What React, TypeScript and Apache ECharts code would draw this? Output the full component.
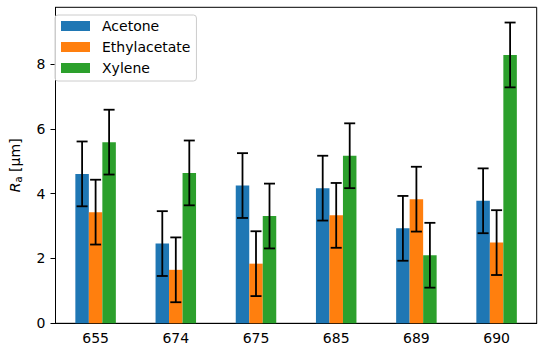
import React, { useEffect, useRef } from "react";
import * as echarts from "echarts";

const categories = ["655", "674", "675", "685", "689", "690"];
const seriesNames = ["Acetone", "Ethylacetate", "Xylene"];
const acetone = [4.61, 2.46, 4.25, 4.17, 2.93, 3.78];
const ethylacetate = [3.43, 1.65, 1.84, 3.33, 3.83, 2.49];
const xylene = [5.59, 4.64, 3.31, 5.17, 2.1, 8.28];
const acetoneErr = [1.0, 1.0, 1.0, 1.0, 1.0, 1.0];
const ethylacetateErr = [1.0, 1.0, 1.0, 1.0, 1.0, 1.0];
const xyleneErr = [1.0, 1.0, 1.0, 1.0, 1.0, 1.0];
const yTicks = [0, 2, 4, 6, 8];

const COLORS = ["#1f77b4", "#ff7f0e", "#2ca02c"];
const FONT = "DejaVu Sans";
const BAR_W = 13.5;

export default function App() {
  const ref = useRef<HTMLDivElement>(null);
  useEffect(() => {
    if (!ref.current) return;
    const chart = echarts.init(ref.current, null, { renderer: "svg" });
    const values = [acetone, ethylacetate, xylene];
    const errs = [acetoneErr, ethylacetateErr, xyleneErr];

    const barSeries = values.map((v, i) => ({
      type: "bar",
      name: seriesNames[i],
      data: v,
      barWidth: BAR_W,
      barGap: "0%",
      itemStyle: { color: COLORS[i] },
      z: 2,
    }));

    const errSeries = values.map((v, i) => ({
      type: "custom",
      name: seriesNames[i] + " err",
      data: v.map((val, j) => [j, val - errs[i][j], val + errs[i][j]]),
      encode: { x: 0, y: [1, 2] },
      z: 5,
      silent: true,
      renderItem: (params: any, api: any) => {
        const x = api.value(0);
        const lo = api.value(1);
        const hi = api.value(2);
        const pHi = api.coord([x, hi]);
        const pLo = api.coord([x, lo]);
        const cx = pHi[0] + (i - 1) * BAR_W;
        const hw = 5.5;
        const style = { stroke: "#000", lineWidth: 1.8 };
        return {
          type: "group",
          children: [
            { type: "line", shape: { x1: cx, y1: pHi[1], x2: cx, y2: pLo[1] }, style },
            { type: "line", shape: { x1: cx - hw, y1: pHi[1], x2: cx + hw, y2: pHi[1] }, style },
            { type: "line", shape: { x1: cx - hw, y1: pLo[1], x2: cx + hw, y2: pLo[1] }, style },
          ],
        };
      },
    }));

    chart.setOption({
      animation: false,
      backgroundColor: "#fff",
      textStyle: { fontFamily: FONT },
      grid: {
        left: 47.7,
        right: 13.3,
        top: 7.3,
        bottom: 30.7,
        show: true,
        borderColor: "#000",
        borderWidth: 1,
        backgroundColor: "transparent",
      },
      legend: {
        data: seriesNames,
        orient: "vertical",
        left: 55,
        top: 15,
        padding: [3, 6, 5, 6],
        itemWidth: 29,
        itemHeight: 10,
        itemGap: 5,
        icon: "rect",
        borderColor: "#cccccc",
        borderWidth: 1,
        borderRadius: 3,
        backgroundColor: "rgba(255,255,255,0.8)",
        textStyle: {
          fontFamily: FONT,
          fontSize: 14,
          color: "#000",
          lineHeight: 16,
          padding: [0, 0, 0, 7],
        },
      },
      xAxis: {
        type: "category",
        data: categories,
        boundaryGap: true,
        axisLine: { lineStyle: { color: "#000", width: 1 } },
        axisTick: { alignWithLabel: true, length: 5, lineStyle: { color: "#000" } },
        axisLabel: { fontFamily: FONT, fontSize: 14, color: "#000", margin: 8 },
        splitLine: { show: false },
      },
      yAxis: {
        type: "value",
        min: 0,
        max: 9.75,
        interval: 2,
        name: "{i|R}{s|a}{n| [μm]}",
        nameLocation: "middle",
        nameGap: 32,
        nameRotate: 90,
        nameTextStyle: {
          rich: {
            i: { fontFamily: FONT, fontSize: 14, fontStyle: "italic", color: "#000" },
            s: { fontFamily: FONT, fontSize: 10, color: "#000", verticalAlign: "bottom", padding: [7, 0, 0, 0] },
            n: { fontFamily: FONT, fontSize: 14, color: "#000" },
          },
        },
        axisLine: { show: true, lineStyle: { color: "#000", width: 1 } },
        axisTick: { show: true, length: 5, lineStyle: { color: "#000" }, customValues: yTicks },
        axisLabel: {
          fontFamily: FONT,
          fontSize: 14,
          color: "#000",
          margin: 10,
          customValues: yTicks,
        },
        splitLine: { show: false },
      },
      series: [...barSeries, ...errSeries],
    });
    return () => chart.dispose();
  }, []);
  return <div ref={ref} style={{ width: 550, height: 354, position: "absolute", left: 0, top: 0 }} />;
}
